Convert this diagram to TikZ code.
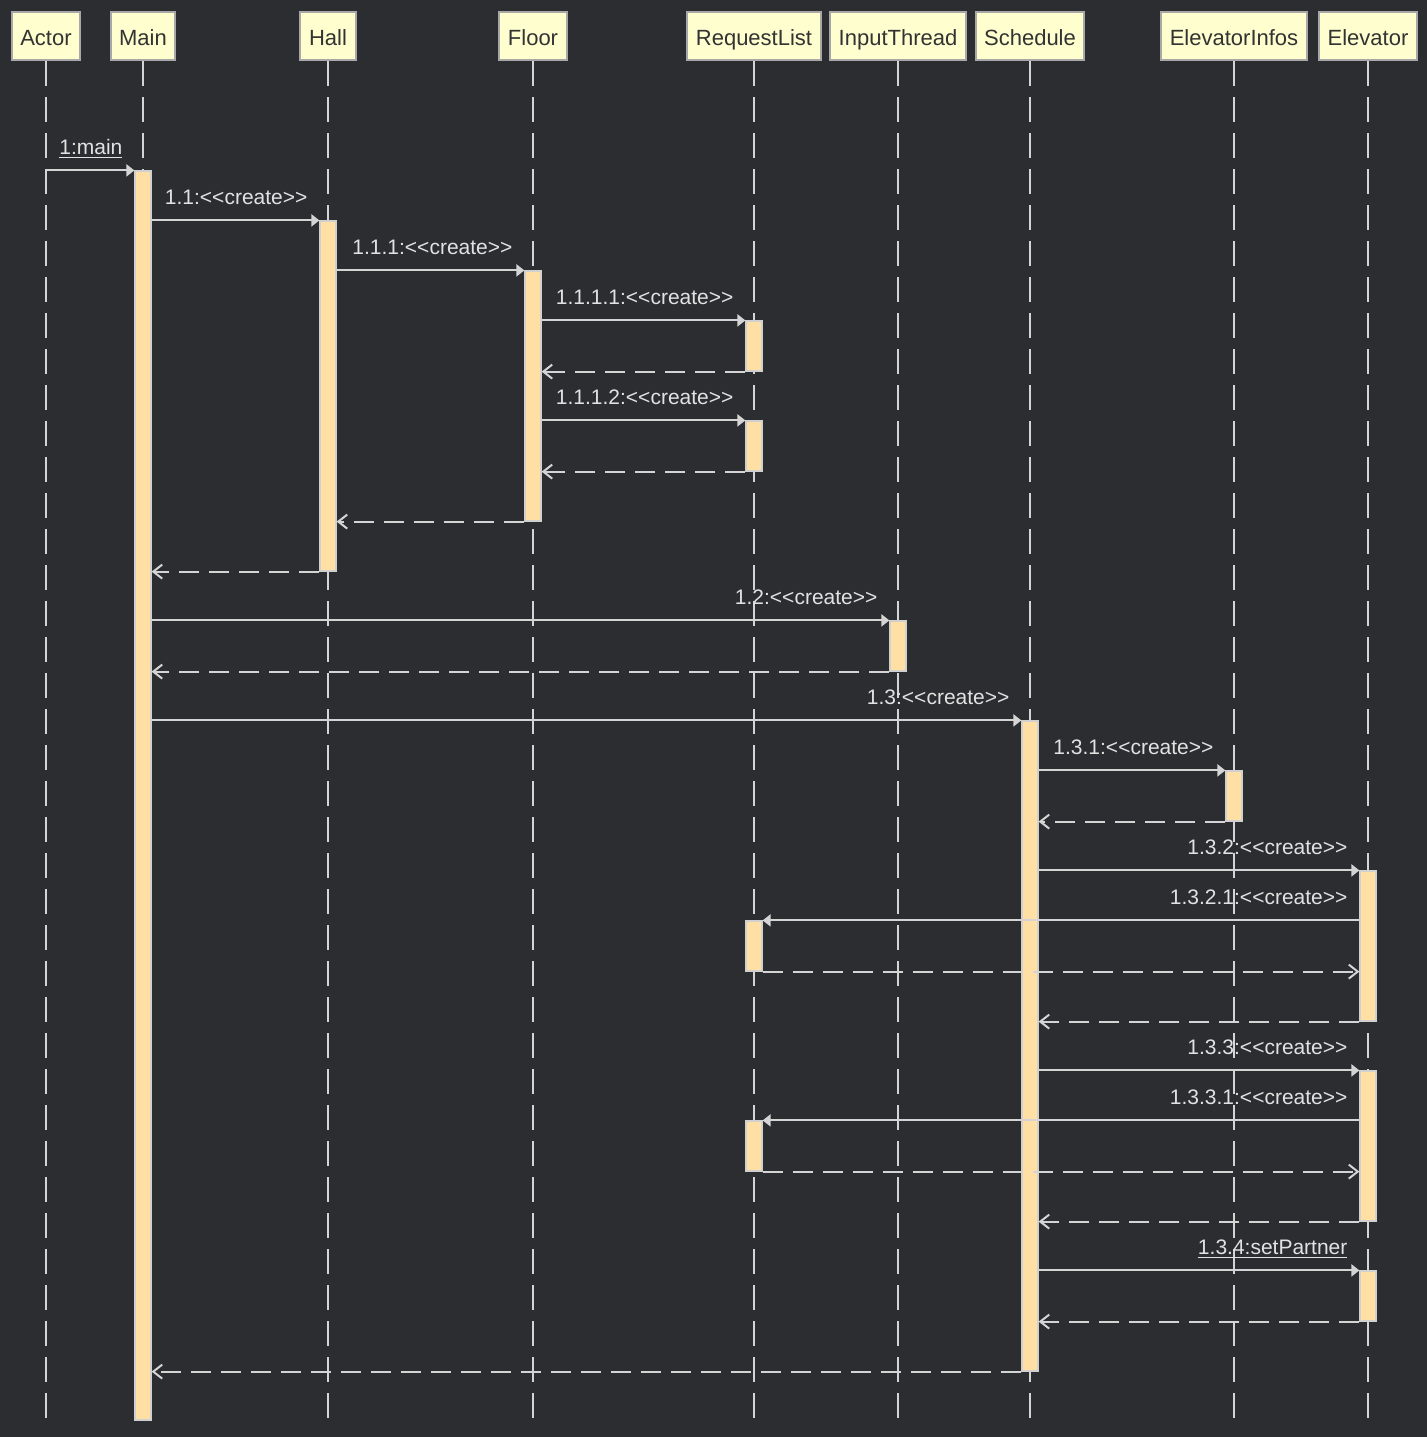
\documentclass[tikz,border=0pt]{standalone}
\usepackage{fontspec}
\newfontfamily\diafont{Liberation Sans}
\usetikzlibrary{arrows.meta}
\definecolor{bgdark}{HTML}{2B2D30}
\definecolor{headfill}{HTML}{FEFECE}
\definecolor{headborder}{HTML}{A8A8A8}
\definecolor{headtext}{HTML}{333333}
\definecolor{barfill}{HTML}{FFDFA3}
\definecolor{barborder}{HTML}{D0D0D0}
\definecolor{lineclr}{HTML}{D4D4D4}
\definecolor{labeltext}{HTML}{E2E2E2}
\tikzset{
  head/.style={rectangle, draw=headborder, fill=headfill, line width=1pt, text=headtext, minimum height=24pt, inner xsep=4.3pt, text height=10.5pt, text depth=1.1pt, font=\diafont\fontsize{11}{13}\selectfont},
  bar/.style={rectangle, draw=barborder, fill=barfill, line width=0.6pt, minimum width=8pt, inner sep=0pt},
  lifeline/.style={draw=lineclr, line width=1pt, dash pattern=on 12.5pt off 5.5pt},
  call/.style={draw=lineclr, line width=1pt, -{Triangle[length=4pt,width=6pt]}},
  reply/.style={draw=lineclr, line width=1pt, dash pattern=on 10pt off 5pt, -{Straight Barb[length=4.5pt,width=7pt]}},
  msg/.style={anchor=base east, xshift=-5.5pt, yshift=8pt, inner sep=0pt, text=labeltext}
}

\begin{document}
\begin{tikzpicture}[x=0.5pt, y=-0.5pt, font=\diafont\fontsize{10.5}{12.6}\selectfont]

\fill[bgdark] (0,0) rectangle (1427,1437);
\useasboundingbox (0,0) rectangle (1427,1437);

% participants
\node[head] (actor) at (46,36) {Actor};
\node[head] (main) at (143,36) {Main};
\node[head] (hall) at (328,36) {Hall};
\node[head] (floor) at (533,36) {Floor};
\node[head] (reqlist) at (754,36) {RequestList};
\node[head] (input) at (898,36) {InputThread};
\node[head] (sched) at (1030,36) {Schedule};
\node[head] (infos) at (1234,36) {ElevatorInfos};
\node[head] (elev) at (1368,36) {Elevator};

\foreach \n in {actor,main,hall,floor,reqlist,input,sched,infos,elev} {
  \draw[lifeline] (\n.south) -- (\n.south |- 0,1418);
}

% activations
\node[bar, minimum height=624.5pt] (mainact) at (143,795.5) {};
\node[bar, minimum height=175pt] (hallact) at (328,396) {};
\node[bar, minimum height=125pt] (flooract) at (533,396) {};
\node[bar, minimum height=325pt] (schedact) at (1030,1046) {};
\foreach \nm/\x/\y in {req1/754/346,req2/754/446,req3/754/946,req4/754/1146,inputact/898/646,infosact/1234/796,elev3/1368/1296} {
  \node[bar, minimum height=25pt] (\nm) at (\x,\y) {};
}
\node[bar, minimum height=75pt] (elev1) at (1368,946) {};
\node[bar, minimum height=75pt] (elev2) at (1368,1146) {};

% messages
\draw[call] (actor.south |- mainact.north) -- (mainact.north west) node[msg, pos=1] {\underline{1:main}};
\draw[call] (mainact.east |- hallact.north) -- (hallact.north west) node[msg, pos=1] {1.1:<<create>>};
\draw[call] (hallact.east |- flooract.north) -- (flooract.north west) node[msg, pos=1] {1.1.1:<<create>>};
\draw[call] (flooract.east |- req1.north) -- (req1.north west) node[msg, pos=1] {1.1.1.1:<<create>>};
\draw[reply] (req1.south west) -- (flooract.east |- req1.south);
\draw[call] (flooract.east |- req2.north) -- (req2.north west) node[msg, pos=1] {1.1.1.2:<<create>>};
\draw[reply] (req2.south west) -- (flooract.east |- req2.south);
\draw[reply] (flooract.south west) -- (hallact.east |- flooract.south);
\draw[reply] (hallact.south west) -- (mainact.east |- hallact.south);
\draw[call] (mainact.east |- inputact.north) -- (inputact.north west) node[msg, pos=1] {1.2:<<create>>};
\draw[reply] (inputact.south west) -- (mainact.east |- inputact.south);
\draw[call] (mainact.east |- schedact.north) -- (schedact.north west) node[msg, pos=1] {1.3:<<create>>};
\draw[call] (schedact.east |- infosact.north) -- (infosact.north west) node[msg, pos=1] {1.3.1:<<create>>};
\draw[reply] (infosact.south west) -- (schedact.east |- infosact.south);
\draw[call] (schedact.east |- elev1.north) -- (elev1.north west) node[msg, pos=1] {1.3.2:<<create>>};
\draw[call] (elev1.west |- req3.north) -- (req3.north east) node[msg, pos=0] {1.3.2.1:<<create>>};
\draw[reply] (req3.south east) -- (elev1.west |- req3.south);
\draw[reply] (elev1.south west) -- (schedact.east |- elev1.south);
\draw[call] (schedact.east |- elev2.north) -- (elev2.north west) node[msg, pos=1] {1.3.3:<<create>>};
\draw[call] (elev2.west |- req4.north) -- (req4.north east) node[msg, pos=0] {1.3.3.1:<<create>>};
\draw[reply] (req4.south east) -- (elev2.west |- req4.south);
\draw[reply] (elev2.south west) -- (schedact.east |- elev2.south);
\draw[call] (schedact.east |- elev3.north) -- (elev3.north west) node[msg, pos=1] {\underline{1.3.4:setPartner}};
\draw[reply] (elev3.south west) -- (schedact.east |- elev3.south);
\draw[reply] (schedact.south west) -- (mainact.east |- schedact.south);

\end{tikzpicture}
\end{document}
